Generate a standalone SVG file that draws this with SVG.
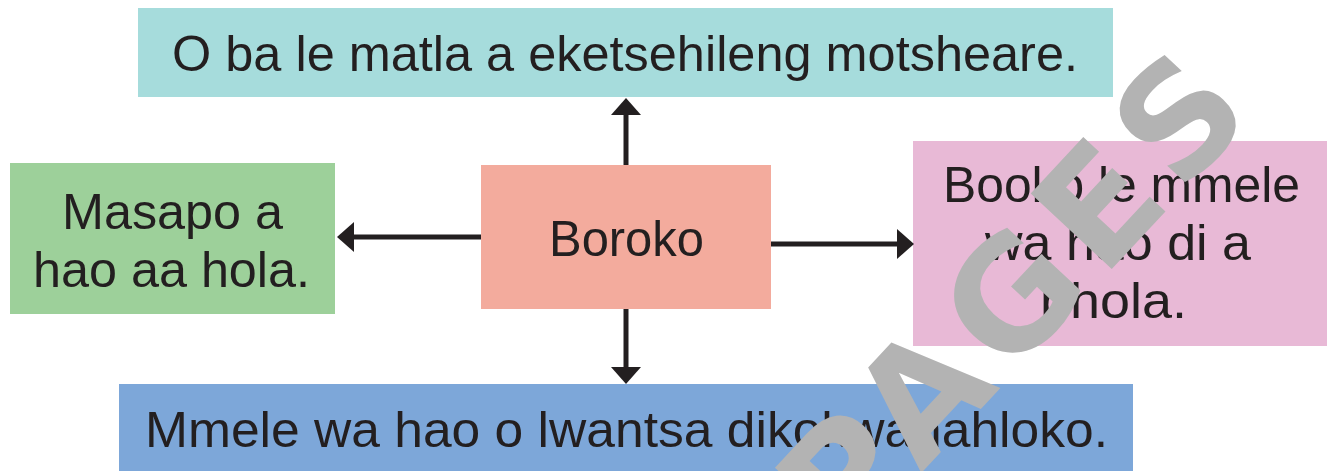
<svg xmlns="http://www.w3.org/2000/svg" width="1327" height="471" viewBox="0 0 1327 471">
<style>
.t{font-family:"Liberation Sans","Noto Sans",Arial,sans-serif;font-size:50px;fill:#231f20}
.c{stroke:#231f20;stroke-width:5;fill:none}
.wm{font-family:"DejaVu Sans","Liberation Sans",Arial,sans-serif;font-weight:bold;font-size:152px;fill:#b3b3b3}
</style>
<defs>
<marker id="ah" markerUnits="userSpaceOnUse" markerWidth="18" markerHeight="32" refX="0" refY="16" orient="auto" overflow="visible">
<path d="M0,1 L17,16 L0,31 Z" fill="#231f20"/>
</marker>
</defs>
<rect width="1327" height="471" fill="#ffffff"/>
<g id="node-top">
<rect x="138" y="8" width="975" height="89" fill="#a6dcdc"/>
<text class="t" x="172" y="71" textLength="906" lengthAdjust="spacingAndGlyphs">O ba le matla a eketsehileng motsheare.</text>
</g>
<g id="node-left">
<rect x="10" y="163" width="325" height="151" fill="#9dd09a"/>
<text class="t" x="62" y="229" textLength="221" lengthAdjust="spacingAndGlyphs">Masapo a</text>
<text class="t" x="33" y="287" textLength="277" lengthAdjust="spacingAndGlyphs">hao aa hola.</text>
</g>
<g id="node-center">
<rect x="481" y="165" width="290" height="144" fill="#f3ab9d"/>
<text class="t" x="549" y="256" textLength="155" lengthAdjust="spacingAndGlyphs">Boroko</text>
</g>
<g id="node-right">
<rect x="913" y="141" width="414" height="205" fill="#e8b9d6"/>
<text class="t" x="943" y="202" textLength="357" lengthAdjust="spacingAndGlyphs">Booko le mmele</text>
<text class="t" x="985" y="260" textLength="266" lengthAdjust="spacingAndGlyphs">wa hao di a</text>
<text class="t" x="1040" y="318" textLength="147" lengthAdjust="spacingAndGlyphs">phola.</text>
</g>
<g id="node-bottom">
<rect x="119" y="384" width="1014" height="87" fill="#7da7d9"/>
<text class="t" x="145" y="447" textLength="963" lengthAdjust="spacingAndGlyphs">Mmele wa hao o lwantsa dikokwanahloko.</text>
</g>
<g id="connectors">
<line class="c" x1="626" y1="165" x2="626" y2="115" marker-end="url(#ah)"/>
<line class="c" x1="626" y1="309" x2="626" y2="367" marker-end="url(#ah)"/>
<line class="c" x1="771" y1="244" x2="897" y2="244" marker-end="url(#ah)"/>
<line class="c" x1="481" y1="237" x2="354" y2="237" marker-end="url(#ah)"/>
</g>
<g id="watermark">
<text class="wm" transform="translate(1051,334) rotate(-47)" x="0" y="0" text-anchor="middle" textLength="600" lengthAdjust="spacing">PAGES</text>
</g>
</svg>
